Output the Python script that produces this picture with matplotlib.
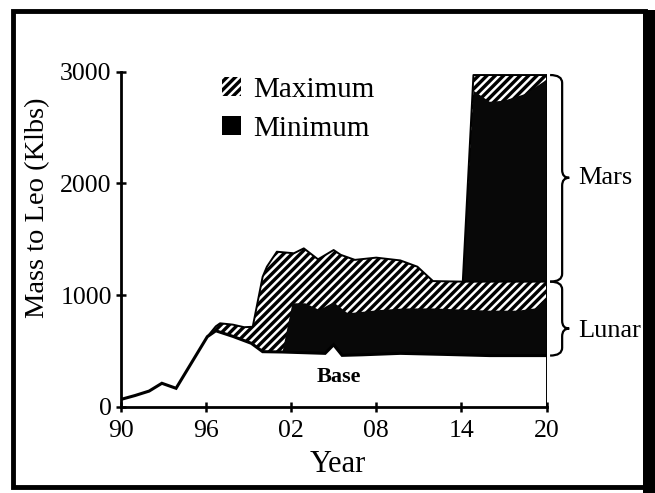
import matplotlib
matplotlib.use("Agg")
import matplotlib.pyplot as plt
from matplotlib.patches import Patch, Rectangle, PathPatch
from matplotlib.path import Path
import numpy as np

plt.rcParams.update({"font.family": "Liberation Serif", "hatch.linewidth": 1.8})

# --- data (Klbs to LEO by year) ---
base_years = np.array([1990, 1991, 1992, 1992.9, 1993.9, 1996.1, 1996.7, 1997.9, 1999.2,
                       2000.0, 2001.4, 2004.4, 2005.0, 2005.6, 2007.0, 2009.7, 2013.0,
                       2016.0, 2020.0])
base_vals = np.array([65, 100, 140, 210, 165, 627, 680, 630, 568,
                      493, 490, 478, 555, 460, 465, 478, 468, 458, 458])

lunar_max_years = np.array([1996.1, 1996.7, 1997.0, 1997.9, 1998.7, 1999.3, 2000.0, 2000.3,
                            2001.0, 2002.2, 2002.9, 2003.9, 2005.0, 2005.5, 2006.5, 2008.0,
                            2009.7, 2010.9, 2012.0, 2014.1, 2020.0])
lunar_max_vals = np.array([627, 720, 747, 735, 712, 716, 1164, 1254,
                           1388, 1374, 1418, 1320, 1403, 1360, 1315, 1335,
                           1310, 1254, 1125, 1120, 1120])

lunar_min_years = np.array([2001.4, 2002.1, 2003.0, 2004.0, 2005.0, 2006.0, 2008.3, 2010.0,
                            2012.0, 2014.0, 2016.0, 2018.0, 2019.2, 2019.7, 2020.0])
lunar_min_vals = np.array([490, 926, 926, 866, 935, 836, 866, 880,
                           880, 870, 860, 860, 880, 940, 950])

mars_max_years = np.array([2014.1, 2014.85, 2020.0])
mars_max_vals = np.array([1120, 2970, 2970])

mars_min_years = np.array([2014.1, 2014.85, 2016.0, 2017.0, 2018.5, 2019.8, 2020.0])
mars_min_vals = np.array([1120, 2830, 2730, 2740, 2800, 2910, 2930])

x_ticks = [1990, 1996, 2002, 2008, 2014, 2020]
x_labels = ["90", "96", "02", "08", "14", "20"]
y_ticks = [0, 1000, 2000, 3000]

mars_span = (1120, 2970, 2050)   # bottom, top, tip
lunar_span = (458, 1120, 700)

fig = plt.figure(figsize=(6.55, 4.93), dpi=100)
ax = fig.add_axes([0.1843, 0.175, 0.6501, 0.6796])
ax.set_xlim(1990, 2020)
ax.set_ylim(0, 3000)

HATCH = dict(facecolor="black", edgecolor="white", hatch="////", linewidth=0)
SOLID = dict(facecolor="#080808", edgecolor="none", linewidth=0)


def band(tx, ty, bx, by, **kw):
    m = (bx >= tx[0]) & (bx <= tx[-1])
    ax.fill(np.r_[tx, bx[m][::-1]], np.r_[ty, by[m][::-1]], **kw)


band(lunar_max_years, lunar_max_vals, base_years, base_vals, **HATCH)
band(lunar_min_years, lunar_min_vals, base_years, base_vals, **SOLID)
band(mars_max_years, mars_max_vals, lunar_max_years, lunar_max_vals, **HATCH)
band(mars_min_years, mars_min_vals, lunar_max_years, lunar_max_vals, **SOLID)

ax.plot(base_years, base_vals, color="black", lw=2.2, solid_joinstyle="miter")
ax.plot(lunar_max_years, lunar_max_vals, color="black", lw=1.4)
ax.plot(mars_max_years, mars_max_vals, color="black", lw=1.4)
ax.vlines(2020, 0, mars_max_vals[-1], color="black", lw=1.4)

for s in ("top", "right"):
    ax.spines[s].set_visible(False)
for s in ("left", "bottom"):
    ax.spines[s].set_linewidth(2.0)
ax.set_xticks(x_ticks)
ax.set_xticklabels(x_labels)
ax.set_yticks(y_ticks)
ax.tick_params(direction="inout", length=7, width=1.8, labelsize=18.5, pad=3)
ax.tick_params(axis="x", pad=6)

ax.set_xlabel("Year", fontsize=22)
ax.xaxis.set_label_coords(0.51, -0.13)
ax.set_ylabel("Mass to Leo (Klbs)", fontsize=20.5)
ax.yaxis.set_label_coords(-0.165, 0.593)

ax.text(2005.4, 266, "Base", fontsize=16, fontweight="bold", ha="center", va="center")


def brace(lo, hi, tip, x0=2020.25, x1=2021.1, x2=2021.6, r=70):
    verts = [(x0, hi), (x1, hi), (x1, hi - r), (x1, tip + r), (x1, tip), (x2, tip),
             (x1, tip), (x1, tip - r), (x1, lo + r), (x1, lo), (x0, lo)]
    codes = [Path.MOVETO, Path.CURVE3, Path.CURVE3, Path.LINETO, Path.CURVE3, Path.CURVE3,
             Path.CURVE3, Path.CURVE3, Path.LINETO, Path.CURVE3, Path.CURVE3]
    ax.add_patch(PathPatch(Path(verts, codes), fill=False, lw=1.6, ec="black", clip_on=False))


brace(*mars_span)
brace(*lunar_span)
ax.text(2022.2, mars_span[2], "Mars", fontsize=19, ha="left", va="center", clip_on=False)
ax.text(2022.2, lunar_span[2] - 20, "Lunar", fontsize=19, ha="left", va="center", clip_on=False)

handles = [Patch(label="Maximum", **HATCH), Patch(label="Minimum", facecolor="black")]
ax.legend(handles=handles, loc="upper left", bbox_to_anchor=(0.239, 0.985), frameon=False,
          fontsize=21, handlelength=0.62, handleheight=0.62, handletextpad=0.42,
          labelspacing=0.45, borderpad=0, borderaxespad=0)

# outer frame
fig.add_artist(Rectangle((0.02, 0.012), 0.965, 0.966, transform=fig.transFigure,
                         fill=False, lw=3.5, ec="black"))
fig.add_artist(Rectangle((0.982, 0.0), 0.018, 0.98, transform=fig.transFigure,
                         facecolor="black", lw=0))

fig.savefig("out.png", dpi=100)
